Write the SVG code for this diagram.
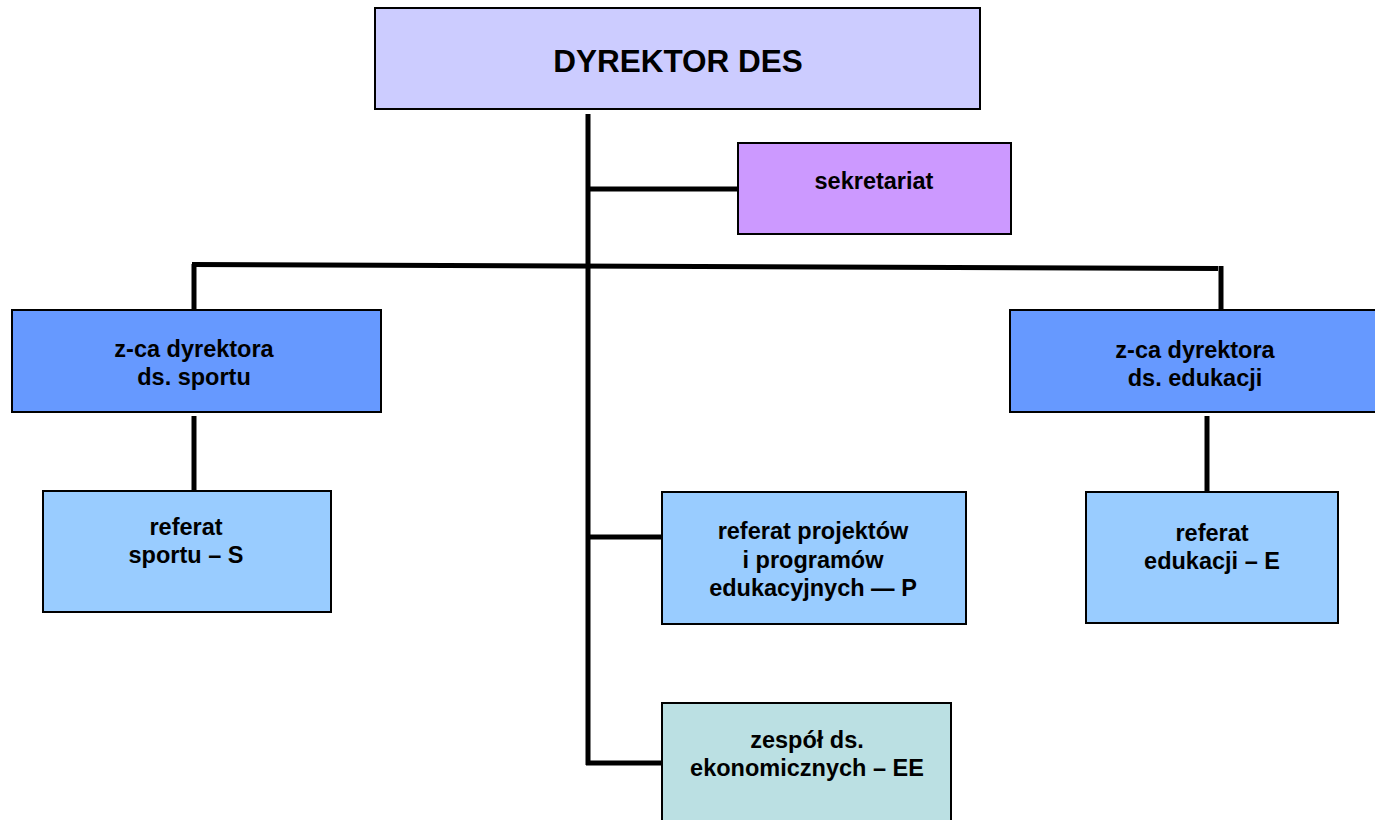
<svg xmlns="http://www.w3.org/2000/svg" width="1375" height="820" viewBox="0 0 1375 820">
<style>
.box{stroke:#000;stroke-width:2}
.t{font-family:"Liberation Sans",Arial,sans-serif;font-weight:bold;font-size:23.5px;fill:#000;text-anchor:middle}
.c{stroke:#000;stroke-width:5;fill:none}
</style>
<rect width="1375" height="820" fill="#fff"/>
<g id="connectors">
<line class="c" x1="588" y1="114" x2="588" y2="765"/>
<line class="c" x1="586" y1="189" x2="738" y2="189"/>
<line class="c" x1="192" y1="264.5" x2="1218" y2="268.5"/>
<line class="c" x1="194" y1="264" x2="194" y2="310"/>
<line class="c" x1="1221" y1="266" x2="1221" y2="310"/>
<line class="c" x1="194" y1="416" x2="194" y2="491"/>
<line class="c" x1="1207" y1="416" x2="1207" y2="491"/>
<line class="c" x1="586" y1="537" x2="662" y2="537"/>
<line class="c" x1="586" y1="763" x2="662" y2="763"/>
</g>
<g id="dyrektor">
<rect class="box" x="375" y="8" width="605" height="101" fill="#CCCCFF"/>
<text class="t" x="678" y="72" style="font-size:31.5px">DYREKTOR DES</text>
</g>
<g id="sekretariat">
<rect class="box" x="738" y="143" width="273" height="91" fill="#CC99FF"/>
<text class="t" x="874" y="189">sekretariat</text>
</g>
<g id="zca-sport">
<rect class="box" x="12" y="310" width="369" height="102" fill="#6699FF"/>
<text class="t" x="194" y="357">z-ca dyrektora</text>
<text class="t" x="194" y="385">ds. sportu</text>
</g>
<g id="zca-edukacja">
<rect class="box" x="1010" y="310" width="370" height="102" fill="#6699FF"/>
<text class="t" x="1195" y="358">z-ca dyrektora</text>
<text class="t" x="1195" y="386">ds. edukacji</text>
</g>
<g id="referat-sportu">
<rect class="box" x="43" y="491" width="288" height="121" fill="#99CCFF"/>
<text class="t" x="186" y="535">referat</text>
<text class="t" x="186" y="563">sportu – S</text>
</g>
<g id="referat-projektow">
<rect class="box" x="662" y="492" width="304" height="132" fill="#99CCFF"/>
<text class="t" x="813" y="539">referat projektów</text>
<text class="t" x="813" y="568">i programów</text>
<text class="t" x="813" y="596">edukacyjnych — P</text>
</g>
<g id="referat-edukacji">
<rect class="box" x="1086" y="492" width="252" height="131" fill="#99CCFF"/>
<text class="t" x="1212" y="541">referat</text>
<text class="t" x="1212" y="569">edukacji – E</text>
</g>
<g id="zespol">
<rect class="box" x="662" y="703" width="289" height="130" fill="#BBE0E3"/>
<text class="t" x="807" y="748">zespół ds.</text>
<text class="t" x="807" y="776">ekonomicznych – EE</text>
</g>
</svg>
